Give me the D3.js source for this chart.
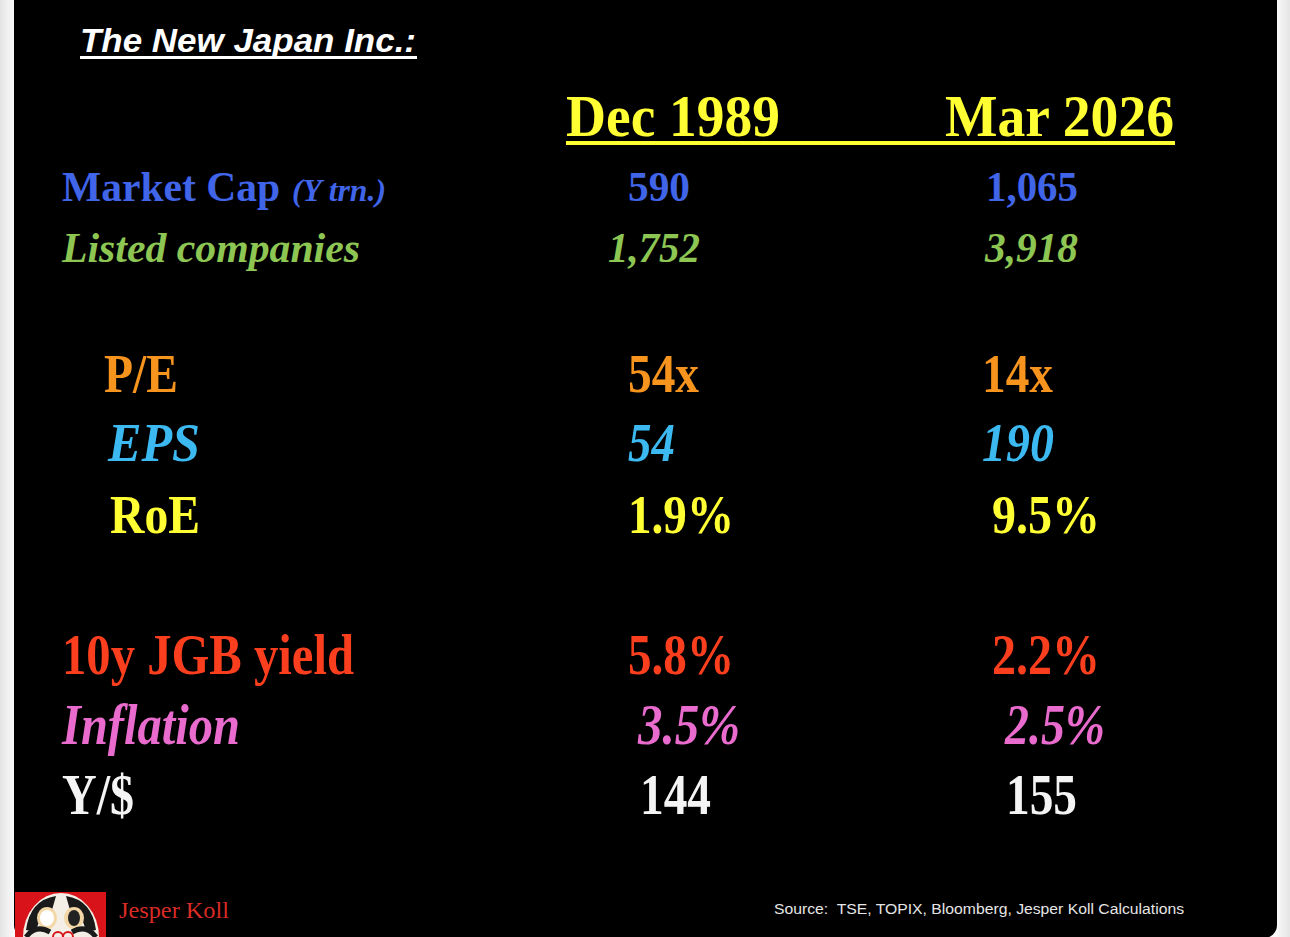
<!DOCTYPE html>
<html>
<head>
<meta charset="utf-8">
<script src="https://cdn.jsdelivr.net/npm/d3@7"></script>
<style>
  html, body { margin: 0; padding: 0; background: #f3f3f3; }
  svg { display: block; }
  text { white-space: pre; }
</style>
</head>
<body>
<script>
// table data
const title = "The New Japan Inc.:";
const columns = ["Dec 1989", "Mar 2026"];
const rowLabels = ["Market Cap", "Listed companies", "P/E", "EPS", "RoE", "10y JGB yield", "Inflation", "Y/$"];
const rowUnits = ["(Y trn.)", "", "", "", "", "", "", ""];
const dec1989 = ["590", "1,752", "54x", "54", "1.9%", "5.8%", "3.5%", "144"];
const mar2026 = ["1,065", "3,918", "14x", "190", "9.5%", "2.2%", "2.5%", "155"];
const author = "Jesper Koll";
const source = "Source:  TSE, TOPIX, Bloomberg, Jesper Koll Calculations";

// styles per row
const rowColors = ["#4065e8", "#8dc653", "#f7941d", "#3cb9f0", "#ffff33", "#fb3f1e", "#e96bcd", "#f4f4f4"];
const rowItalic = [false, true, false, true, false, false, true, false];
const rowSize = [42, 42, 54, 54, 54, 57, 57, 56];

// layout (measured from the slide)
const rowBaseline = [201, 262, 392, 461, 533, 674, 744, 814];
const labelX = [62, 62, 104, 108, 110, 62, 62, 62];
const labelW = [218, 298, 74, 92, 90, 292, 178, 72];
const decX = [628, 608, 628, 628, 628, 628, 638, 640];
const decW = [62, 92, 71, 47, 106, 106, 102, 71];
const marX = [986, 985, 982, 982, 992, 992, 1005, 1006];
const marW = [92, 93, 71, 72, 108, 108, 100, 71];

const W = 1290, H = 937;
const serif = "'Liberation Serif', 'Times New Roman', serif";
const sans = "'Liberation Sans', Arial, sans-serif";

const svg = d3.select("body").append("svg")
    .attr("width", W)
    .attr("height", H);

// frame with soft edges
const defs = svg.append("defs");
const grad = defs.append("linearGradient").attr("id", "edge");
grad.append("stop").attr("offset", "0%").attr("stop-color", "#e4e4e4");
grad.append("stop").attr("offset", "1.1%").attr("stop-color", "#fbfbfb");
grad.append("stop").attr("offset", "98.9%").attr("stop-color", "#fbfbfb");
grad.append("stop").attr("offset", "100%").attr("stop-color", "#e4e4e4");

svg.append("rect").attr("width", W).attr("height", H).attr("fill", "url(#edge)");
svg.append("rect")
    .attr("x", 14).attr("y", -20)
    .attr("width", 1263).attr("height", H + 20 + 1)
    .attr("rx", 13)
    .attr("fill", "#000");

// scales
const y = d3.scaleOrdinal().domain(rowLabels).range(rowBaseline);
const colX = d3.scalePoint().domain(columns).range([566, 945]);
const colW = d3.scaleOrdinal().domain(columns).range([214, 229]);

// title
svg.append("text")
    .attr("x", 80).attr("y", 52)
    .attr("font-family", sans)
    .attr("font-size", 34)
    .attr("font-weight", "bold")
    .attr("font-style", "italic")
    .attr("fill", "#fff")
    .attr("textLength", 336)
    .attr("lengthAdjust", "spacingAndGlyphs")
    .text(title);
svg.append("rect")
    .attr("x", 80).attr("y", 56)
    .attr("width", 337).attr("height", 3)
    .attr("fill", "#fff");

// column headers
svg.selectAll("text.col")
    .data(columns)
    .enter().append("text")
    .attr("class", "col")
    .attr("x", d => colX(d))
    .attr("y", 136)
    .attr("font-family", serif)
    .attr("font-size", 59)
    .attr("font-weight", "bold")
    .attr("fill", "#ffff33")
    .attr("textLength", d => colW(d))
    .attr("lengthAdjust", "spacingAndGlyphs")
    .text(d => d);
svg.append("rect")
    .attr("x", colX(columns[0]))
    .attr("y", 141)
    .attr("width", colX(columns[1]) + colW(columns[1]) - colX(columns[0]) + 1)
    .attr("height", 4)
    .attr("fill", "#ffff33");

// rows
const rows = rowLabels.map((label, i) => ({
    label, unit: rowUnits[i], dec: dec1989[i], mar: mar2026[i], i
}));

const g = svg.append("g");

function cell(sel, text, x, w) {
    sel.append("text")
        .attr("x", d => x[d.i])
        .attr("y", d => y(d.label))
        .attr("font-family", serif)
        .attr("font-size", d => rowSize[d.i])
        .attr("font-weight", "bold")
        .attr("font-style", d => rowItalic[d.i] ? "italic" : "normal")
        .attr("fill", d => rowColors[d.i])
        .attr("textLength", d => w[d.i])
        .attr("lengthAdjust", "spacingAndGlyphs")
        .text(text);
}

const rowG = g.selectAll("g.row")
    .data(rows)
    .enter().append("g")
    .attr("class", "row");

cell(rowG, d => d.label, labelX, labelW);
cell(rowG, d => d.dec, decX, decW);
cell(rowG, d => d.mar, marX, marW);

// unit note after Market Cap
rowG.filter(d => d.unit)
    .append("text")
    .attr("x", 292)
    .attr("y", d => y(d.label))
    .attr("font-family", serif)
    .attr("font-size", 31)
    .attr("font-weight", "bold")
    .attr("font-style", "italic")
    .attr("fill", d => rowColors[d.i])
    .attr("textLength", 94)
    .attr("lengthAdjust", "spacingAndGlyphs")
    .text(d => d.unit);

// daruma logo
const logo = svg.append("g");
logo.append("rect")
    .attr("x", 15).attr("y", 892)
    .attr("width", 91).attr("height", 50)
    .attr("fill", "#d8141a");
logo.append("ellipse")
    .attr("cx", 61).attr("cy", 937)
    .attr("rx", 38).attr("ry", 44)
    .attr("fill", "#f4efe6");
logo.append("path")
    .attr("d", "M26,930 Q30,900 56,896 L52,910 Q40,912 36,932 Z")
    .attr("fill", "#1a1a1a");
logo.append("path")
    .attr("d", "M96,930 Q92,900 66,896 L70,910 Q82,912 86,932 Z")
    .attr("fill", "#1a1a1a");
logo.append("ellipse")
    .attr("cx", 47).attr("cy", 918).attr("rx", 10).attr("ry", 11)
    .attr("fill", "#f3d7a6");
logo.append("ellipse")
    .attr("cx", 47).attr("cy", 918).attr("rx", 7).attr("ry", 8)
    .attr("fill", "#ffffff");
logo.append("ellipse")
    .attr("cx", 74).attr("cy", 918).attr("rx", 10).attr("ry", 11)
    .attr("fill", "#f3d7a6");
logo.append("ellipse")
    .attr("cx", 74).attr("cy", 918).attr("rx", 6).attr("ry", 8)
    .attr("fill", "#222");
logo.append("path")
    .attr("d", "M26,937 Q36,924 50,932 M72,932 Q86,924 96,937")
    .attr("fill", "none").attr("stroke", "#1a1a1a").attr("stroke-width", 5);
logo.append("path")
    .attr("d", "M53,937 a5,5 0 0 1 10,0 M63,937 a5,5 0 0 1 10,0")
    .attr("fill", "none").attr("stroke", "#d8141a").attr("stroke-width", 2);

// footer texts
svg.append("text")
    .attr("x", 119).attr("y", 918)
    .attr("font-family", serif)
    .attr("font-size", 24)
    .attr("fill", "#d92b25")
    .attr("textLength", 110)
    .attr("lengthAdjust", "spacingAndGlyphs")
    .text(author);

svg.append("text")
    .attr("x", 774).attr("y", 914)
    .attr("font-family", sans)
    .attr("font-size", 14)
    .attr("fill", "#e6e6e6")
    .attr("textLength", 410)
    .attr("lengthAdjust", "spacingAndGlyphs")
    .text(source);
</script>
</body>
</html>
